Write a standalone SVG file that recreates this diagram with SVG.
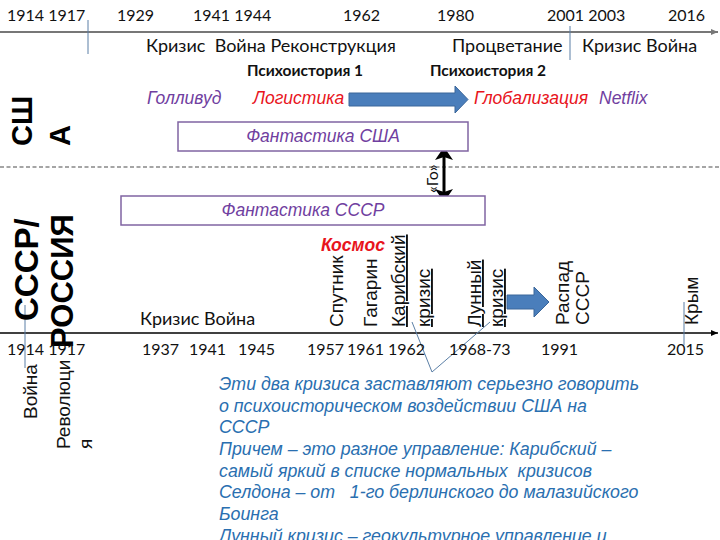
<svg xmlns="http://www.w3.org/2000/svg" width="720" height="540" viewBox="0 0 720 540">
<defs>
<style>
.d{font-family:Lato,"Liberation Sans",sans-serif;font-size:16px;fill:#111}
.t{font-family:Lato,"Liberation Sans",sans-serif;font-size:18px;fill:#111;white-space:pre}
.b{font-family:Lato,"Liberation Sans",sans-serif;font-size:15.5px;font-weight:bold;fill:#111}
.v{font-family:"Liberation Sans",Arial,sans-serif;font-size:19px;fill:#111}
.u{text-decoration:underline}
.big{font-family:"Liberation Sans",Arial,sans-serif;font-weight:bold;fill:#000}
.pi{font-family:"Liberation Sans",Arial,sans-serif;font-style:italic;font-size:17.5px;fill:#7040a0}
.ri{font-family:"Liberation Sans",Arial,sans-serif;font-style:italic;font-size:17.5px;fill:#e8141c}
.box{fill:#fff;stroke:#8064a2;stroke-width:1.5}
.p{font-family:"Liberation Sans",Arial,sans-serif;font-style:italic;font-size:17.8px;fill:#2a6fb0;white-space:pre}
.thin{stroke:#5b7fa6;stroke-width:1;fill:none}
.fat{fill:#4a7ebb;stroke:#3a669a;stroke-width:1}
</style>
<marker id="ag" markerWidth="8" markerHeight="8" refX="7" refY="4" orient="auto" markerUnits="userSpaceOnUse"><path d="M0,1 L7,4 L0,7 z" fill="#777"/></marker>
<marker id="ak" markerWidth="8" markerHeight="8" refX="7" refY="4" orient="auto" markerUnits="userSpaceOnUse"><path d="M0,1 L7,4 L0,7 z" fill="#000"/></marker>
<marker id="ah" markerWidth="14" markerHeight="18" refX="13" refY="9" orient="auto" markerUnits="userSpaceOnUse"><path d="M0,0 L13,9 L0,18 L3,9 z" fill="#000"/></marker>
</defs>
<rect width="720" height="540" fill="#fff"/>

<g id="connectors">
<line x1="0" y1="32" x2="718" y2="32" stroke="#777" stroke-width="2" marker-end="url(#ag)"/>
<line x1="0" y1="333" x2="718" y2="333" stroke="#000" stroke-width="1.5" marker-end="url(#ak)"/>
<line x1="0" y1="167" x2="720" y2="167" stroke="#888" stroke-width="1.5" stroke-dasharray="4,2.5"/>
<line class="thin" x1="88" y1="20" x2="88" y2="54"/>
<line class="thin" x1="570" y1="26" x2="570" y2="60"/>
<line class="thin" x1="25" y1="305" x2="25" y2="368"/>
<line class="thin" x1="684" y1="302" x2="684" y2="345"/>
<polyline class="thin" points="412,322 432,372 490,322"/>
<line x1="444" y1="175" x2="444" y2="147" stroke="#000" stroke-width="3" marker-end="url(#ah)"/>
<line x1="444" y1="175" x2="444" y2="202" stroke="#000" stroke-width="3" marker-end="url(#ah)"/>
<path class="fat" d="M349,93 H455 V86 L468,99.5 L455,113 V106 H349 z"/>
<path class="fat" d="M507,295 H534 V287 L549,302 L534,317 V309 H507 z"/>
</g>

<g id="top-dates">
<text class="d" x="7" y="21">1914 1917</text>
<text class="d" x="117" y="21">1929</text>
<text class="d" x="193" y="21">1941 1944</text>
<text class="d" x="343" y="21">1962</text>
<text class="d" x="437" y="21">1980</text>
<text class="d" x="547" y="21">2001 2003</text>
<text class="d" x="668" y="21">2016</text>
</g>
<g id="top-periods">
<text class="t" x="146" y="52" xml:space="preserve">Кризис  Война Реконструкция</text>
<text class="t" x="452" y="52">Процветание</text>
<text class="t" x="582" y="52">Кризис Война</text>
<text class="b" x="247" y="76">Психоистория 1</text>
<text class="b" x="430" y="76">Психоистория 2</text>
</g>

<g id="usa-label">
<text class="big" font-size="29" transform="translate(32,146) rotate(-90)">СШ</text>
<text class="big" font-size="29" transform="translate(70,146) rotate(-90)">А</text>
</g>
<g id="ussr-label">
<text class="big" font-size="33" transform="translate(38,321) rotate(-90)">СССР/</text>
<text class="big" font-size="31" transform="translate(73,348) rotate(-90)">РОССИЯ</text>
</g>

<g id="usa-culture">
<text class="pi" x="147" y="104">Голливуд</text>
<text class="ri" x="253" y="104">Логистика</text>
<text class="ri" x="474" y="104">Глобализация</text>
<text class="pi" x="599" y="104" font-size="15">Netflix</text>
</g>
<g id="fant-usa">
<rect class="box" x="178" y="122" width="290" height="29"/>
<text class="pi" x="323" y="142" text-anchor="middle">Фантастика США</text>
</g>
<g id="go">
<text class="d" font-size="18" transform="translate(438,193) rotate(-90)">«Го»</text>
</g>
<g id="fant-ussr">
<rect class="box" x="121" y="196" width="364" height="29"/>
<text class="pi" x="303" y="216" text-anchor="middle">Фантастика СССР</text>
</g>
<g id="kosmos">
<text class="ri" x="321" y="251" font-weight="bold" font-size="16">Космос</text>
</g>

<g id="ussr-events">
<text class="v" transform="translate(343,327) rotate(-90)">Спутник</text>
<text class="v" transform="translate(377,327) rotate(-90)">Гагарин</text>
<text class="v u" transform="translate(405,327) rotate(-90)">Карибский</text>
<text class="v u" transform="translate(430,327) rotate(-90)">кризис</text>
<text class="v u" transform="translate(481,327) rotate(-90)">Лунный</text>
<text class="v u" transform="translate(503,327) rotate(-90)">кризис</text>
<text class="v" transform="translate(569,325) rotate(-90)">Распад</text>
<text class="v" transform="translate(589,325) rotate(-90)">СССР</text>
<text class="v" transform="translate(698,325) rotate(-90)">Крым</text>
<text class="t" x="140" y="325">Кризис Война</text>
</g>

<g id="bottom-dates">
<text class="d" x="7" y="355">1914 1917</text>
<text class="d" x="142" y="355">1937</text>
<text class="d" x="189" y="355">1941</text>
<text class="d" x="238" y="355">1945</text>
<text class="d" x="307" y="355">1957</text>
<text class="d" x="347" y="355">1961</text>
<text class="d" x="388" y="355">1962</text>
<text class="d" x="449" y="355">1968-73</text>
<text class="d" x="541" y="355">1991</text>
<text class="d" x="667" y="355">2015</text>
</g>

<g id="early-events">
<text class="v" transform="translate(37,419) rotate(-90)">Война</text>
<text class="v" transform="translate(70,449) rotate(-90)">Революци</text>
<text class="v" transform="translate(92,449) rotate(-90)">я</text>
</g>

<g id="note">
<text class="p" x="219" y="390">Эти два кризиса заставляют серьезно говорить</text>
<text class="p" x="219" y="412">о психоисторическом воздействии США на</text>
<text class="p" x="219" y="433">СССР</text>
<text class="p" x="219" y="455">Причем – это разное управление: Карибский –</text>
<text class="p" x="219" y="477" xml:space="preserve">самый яркий в списке нормальных  кризисов</text>
<text class="p" x="219" y="498" xml:space="preserve">Селдона – от   1-го берлинского до малазийского</text>
<text class="p" x="219" y="520">Боинга</text>
<text class="p" x="219" y="542">Лунный кризис – геокультурное управление и</text>
</g>
</svg>
